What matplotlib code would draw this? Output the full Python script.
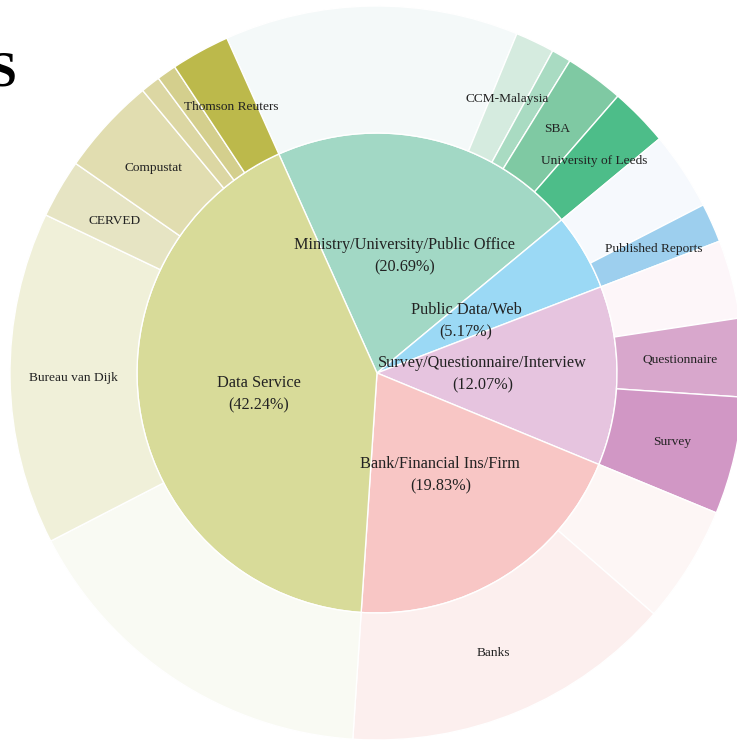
import matplotlib
matplotlib.use("Agg")
import matplotlib.pyplot as plt
import numpy as np

# ---- data ----
inner_labels = ["Ministry/University/Public Office", "Public Data/Web",
                "Survey/Questionnaire/Interview", "Bank/Financial Ins/Firm", "Data Service"]
inner_values = [24, 6, 14, 23, 49]
inner_colors = ["#a2d8c5", "#9bd9f5", "#e6c4df", "#f8c6c5", "#d8db99"]

outer_labels = ["", "CCM-Malaysia", "", "SBA", "University of Leeds",
                "", "Published Reports",
                "", "Questionnaire", "Survey",
                "", "Banks",
                "", "Bureau van Dijk", "CERVED", "Compustat", "", "", "Thomson Reuters"]
outer_values = [15, 2, 1, 3, 3,
                4, 2,
                4, 4, 6,
                6, 17,
                19, 17, 3, 5, 1, 1, 3]
outer_colors = ["#f4f9f9", "#d5ebdf", "#a9dbc2", "#7fc9a3", "#4dbd89",
                "#f6f9fd", "#9dcfee",
                "#fdf6f9", "#d8a7cc", "#d197c5",
                "#fdf6f5", "#fcefee",
                "#f9faf3", "#f0f0d9", "#e6e4c3", "#e1ddb0", "#dcd7a3", "#d4cf8d", "#bcb94b"]

title_text = "S"

# ---- layout ----
W, H = 737, 742
cx, cy = 377, 373
R_in, R_out = 240, 367

fig = plt.figure(figsize=(W / 100, H / 100), dpi=100)
ax = fig.add_axes([0, 0, 1, 1])
ax.set_aspect("equal")
ax.axis("off")

start = 90 + 24.15
ax.pie(inner_values, radius=R_in, colors=inner_colors, startangle=start,
       counterclock=False, wedgeprops=dict(edgecolor="white", linewidth=1.0))
ax.pie(outer_values, radius=R_out, colors=outer_colors, startangle=start,
       counterclock=False,
       wedgeprops=dict(width=R_out - R_in, edgecolor="white", linewidth=1.0))
ax.set_xlim(-cx, W - cx)
ax.set_ylim(-(H - cy), cy)

serif = ["Liberation Serif", "DejaVu Serif"]
total = sum(inner_values)

# inner labels
rfac = [0.50, 0.43, 0.44, 0.50, 0.50]
cum = 0
for lab, v, rf in zip(inner_labels, inner_values, rfac):
    mid = start - (cum + v / 2) / total * 360
    cum += v
    x = rf * R_in * np.cos(np.radians(mid))
    y = rf * R_in * np.sin(np.radians(mid))
    ax.text(x, y, f"{lab}\n({v / total * 100:.2f}%)", ha="center", va="center",
            fontsize=11.7, family=serif, color="#222222", linespacing=1.55)

# outer labels
r_mid = (R_in + R_out) / 2
cum = 0
for lab, v in zip(outer_labels, outer_values):
    mid = start - (cum + v / 2) / total * 360
    cum += v
    if not lab:
        continue
    x = r_mid * np.cos(np.radians(mid))
    y = r_mid * np.sin(np.radians(mid))
    ax.text(x, y, lab, ha="center", va="center", fontsize=9.6,
            family=serif, color="#222222")

fig.text(16 / W, 1 - 85 / H, title_text, ha="right", va="baseline",
         fontsize=36, fontweight="bold", family=serif, color="black")

fig.savefig("out.png", dpi=100)
